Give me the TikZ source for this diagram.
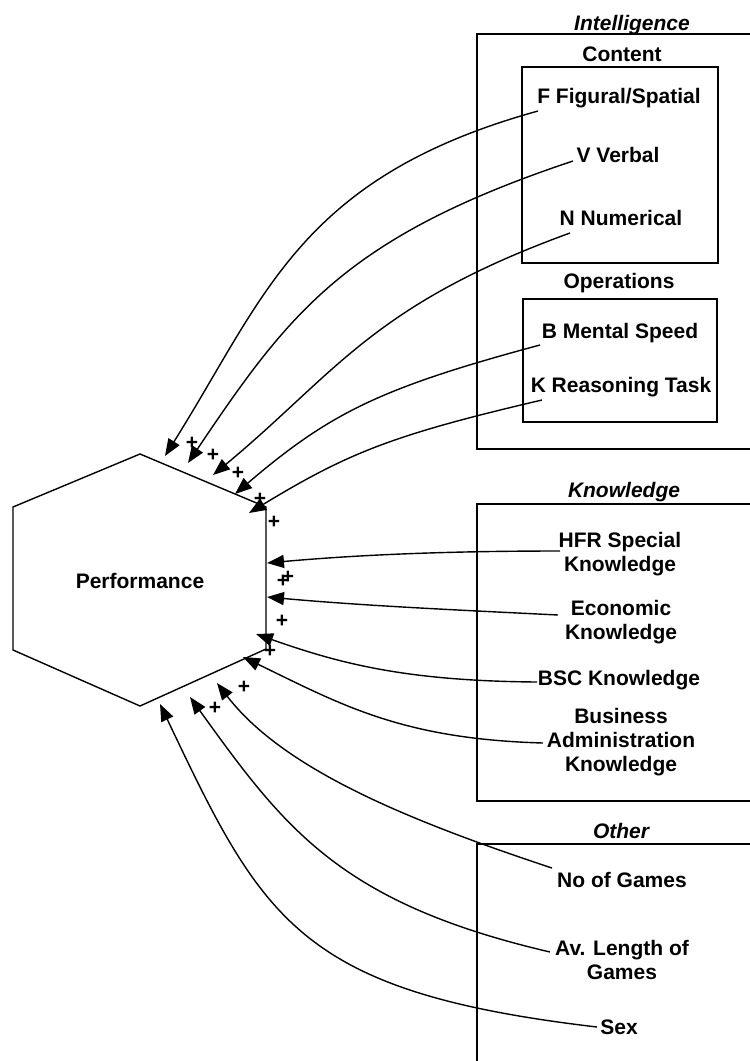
\documentclass[tikz,border=0pt]{standalone}
\usepackage{fontspec}
\setmainfont{Liberation Sans}
\usetikzlibrary{arrows.meta}
\begin{document}
\begin{tikzpicture}[x=1pt,y=-1pt,
  lbl/.style={font=\fontsize{21}{24}\selectfont\bfseries, inner sep=0pt, anchor=north, align=center},
  grp/.style={lbl, font=\fontsize{21}{24}\selectfont\bfseries\itshape},
  frame/.style={line width=1.4pt},
  link/.style={line width=1.4pt, -{Triangle[length=17pt,width=13pt]}},
  sign/.style={font=\fontsize{21}{24}\selectfont\bfseries, inner sep=0pt}
]
\useasboundingbox (0,0) rectangle (750,1061);

% central hexagon
\draw[frame] (140,454) -- (266,507) -- (266,649) -- (140,706) -- (13,650) -- (13,507) -- cycle;
\node[lbl] (perf) at (140,573) {Performance};

% group frames
\draw[frame] (750,34) -- (477,34) -- (477,449) -- (750,449);
\draw[frame] (522,67) rectangle (718,263);
\draw[frame] (523,299) rectangle (717,422);
\draw[frame] (750,504) -- (477,504) -- (477,801) -- (750,801);
\draw[frame] (750,844) -- (477,844) -- (477,1062);

% group titles
\node[grp] (gInt) at (632,15) {Intelligence};
\node[lbl] (gCon) at (622,47) {Content};
\node[lbl] (gOp)  at (619,273) {Operations};
\node[grp] (gKn)  at (624,482) {Knowledge};
\node[grp] (gOth) at (621,823) {Other};

% factors
\node[lbl] (F)   at (619,88)  {F Figural/Spatial};
\node[lbl] (V)   at (618,147) {V Verbal};
\node[lbl] (N)   at (621,210) {N Numerical};
\node[lbl] (B)   at (620,323) {B Mental Speed};
\node[lbl] (K)   at (621,377) {K Reasoning Task};
\node[lbl] (HFR) at (620,532) {HFR Special\\Knowledge};
\node[lbl] (Eco) at (621,600) {Economic\\Knowledge};
\node[lbl] (BSC) at (619,670) {BSC Knowledge};
\node[lbl] (Bus) at (621,708) {Business\\Administration\\Knowledge};
\node[lbl] (NoG) at (622,872) {No of Games};
\node[lbl] (AvL) at (622,940) {Av. Length of\\Games};
\node[lbl] (Sex) at (619,1020) {Sex};

% connector ends at the factors
\coordinate (sF) at (538,111);
\coordinate (sV) at (573,161);
\coordinate (sN) at (570,233);
\coordinate (sB) at (540,345);
\coordinate (sK) at (542,400);
\coordinate (sHFR) at (560,551);
\coordinate (sEco) at (558,615);
\coordinate (sBSC) at (537,682);
\coordinate (sBus) at (543,743);
\coordinate (sNoG) at (552,868);
\coordinate (sAvL) at (550,952);
\coordinate (sSex) at (597,1027);

% arrow tips at the hexagon
\coordinate (tF) at (165,456);
\coordinate (tV) at (188,463);
\coordinate (tN) at (213,475);
\coordinate (tB) at (235,494);
\coordinate (tK) at (249,513);
\coordinate (tHFR) at (267,563);
\coordinate (tEco) at (267,597);
\coordinate (tBSC) at (256,634);
\coordinate (tBus) at (243,657);
\coordinate (tNoG) at (217,683);
\coordinate (tAvL) at (190,697);
\coordinate (tSex) at (160,704);

% connectors
\draw[link] (sF) .. controls (300,177) and (266,295) .. (tF);
\draw[link] (sV) .. controls (345,237) and (289,313) .. (tV);
\draw[link] (sN) .. controls (372,305) and (336,373) .. (tN);
\draw[link] (sB) .. controls (380,388) and (330,413) .. (tB);
\draw[link] (sK) .. controls (392,435) and (348,453) .. (tK);
\draw[link] (sHFR) .. controls (460,551) and (367,554) .. (tHFR);
\draw[link] (sEco) .. controls (458,610) and (367,606) .. (tEco);
\draw[link] (sBSC) .. controls (407,681) and (341,664) .. (tBSC);
\draw[link] (sBus) .. controls (402,739) and (342,705) .. (tBus);
\draw[link] (sNoG) .. controls (410,821) and (284,770) .. (tNoG);
\draw[link] (sAvL) .. controls (340,903) and (285,829) .. (tAvL);
\draw[link] (sSex) .. controls (299,992) and (263,921) .. (tSex);

% signs of the effects
\node[sign] (p1) at (192,443) {+};
\node[sign] (p2) at (213,455) {+};
\node[sign] (p3) at (238,473) {+};
\node[sign] (p4) at (260,499) {+};
\node[sign] (p5) at (274,522) {+};
\node[sign] (p6) at (283,581) {+};
\node[sign] (p7) at (288,577) {+};
\node[sign] (p8) at (282,621) {+};
\node[sign] (p9) at (270,651) {+};
\node[sign] (p10) at (244,687) {+};
\node[sign] (p11) at (215,708) {+};
\end{tikzpicture}
\end{document}
